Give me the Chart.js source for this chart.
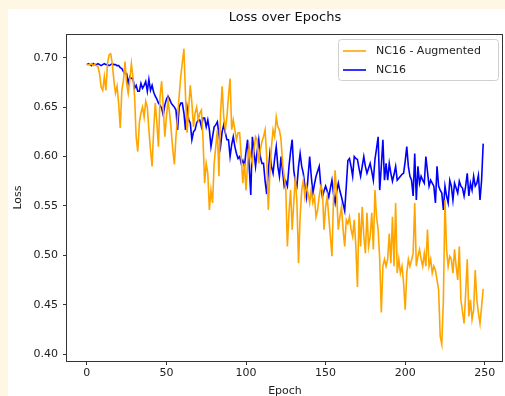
<!DOCTYPE html>
<html>
<head>
<meta charset="utf-8">
<script src="https://cdn.jsdelivr.net/npm/chart.js@4.4.1/dist/chart.umd.min.js"></script>
<style>
  html, body { margin: 0; padding: 0; background: #fff; }
</style>
</head>
<body>
<canvas id="grafico" width="505" height="396"></canvas>
<script>
// epochs 0..249
const epochs = Array.from({ length: 250 }, (_, i) => i)

const nc16Aug = [
  0.693, 0.693, 0.693, 0.694, 0.692, 0.693, 0.692, 0.691, 0.684, 0.670,
  0.667, 0.681, 0.667, 0.694, 0.703, 0.704, 0.694, 0.677, 0.664, 0.671,
  0.654, 0.629, 0.667, 0.677, 0.696, 0.674, 0.664, 0.677, 0.694, 0.680,
  0.661, 0.620, 0.605, 0.634, 0.644, 0.650, 0.640, 0.656, 0.650, 0.627,
  0.607, 0.590, 0.627, 0.654, 0.634, 0.610, 0.661, 0.676, 0.650, 0.620,
  0.640, 0.657, 0.644, 0.627, 0.607, 0.592, 0.620, 0.640, 0.661, 0.681,
  0.695, 0.709, 0.661, 0.624, 0.650, 0.672, 0.654, 0.630, 0.644, 0.650,
  0.637, 0.644, 0.647, 0.617, 0.573, 0.593, 0.583, 0.546, 0.566, 0.553,
  0.593, 0.610, 0.627, 0.580, 0.644, 0.671, 0.640, 0.627, 0.640, 0.661,
  0.679, 0.627, 0.637, 0.627, 0.617, 0.624, 0.624, 0.600, 0.573, 0.593,
  0.566, 0.593, 0.610, 0.600, 0.593, 0.607, 0.620, 0.617, 0.593, 0.607,
  0.615, 0.620, 0.627, 0.600, 0.546, 0.583, 0.610, 0.627, 0.620, 0.640,
  0.630, 0.627, 0.617, 0.593, 0.580, 0.566, 0.509, 0.543, 0.566, 0.526,
  0.553, 0.580, 0.553, 0.492, 0.539, 0.566, 0.576, 0.559, 0.570, 0.563,
  0.553, 0.566, 0.553, 0.559, 0.539, 0.546, 0.560, 0.570, 0.566, 0.526,
  0.549, 0.559, 0.539, 0.519, 0.499, 0.559, 0.586, 0.559, 0.526, 0.539,
  0.549, 0.526, 0.509, 0.536, 0.532, 0.539, 0.526, 0.519, 0.536, 0.509,
  0.468, 0.543, 0.509, 0.549, 0.520, 0.502, 0.543, 0.509, 0.519, 0.543,
  0.506, 0.566, 0.539, 0.526, 0.496, 0.442, 0.489, 0.496, 0.489, 0.496,
  0.522, 0.492, 0.539, 0.489, 0.553, 0.482, 0.496, 0.482, 0.489, 0.472,
  0.445, 0.482, 0.496, 0.489, 0.495, 0.502, 0.553, 0.489, 0.499, 0.506,
  0.496, 0.489, 0.502, 0.489, 0.526, 0.489, 0.496, 0.482, 0.489, 0.485,
  0.475, 0.465, 0.418, 0.410, 0.455, 0.556, 0.506, 0.489, 0.499, 0.496,
  0.482, 0.506, 0.489, 0.475, 0.509, 0.455, 0.443, 0.431, 0.462, 0.496,
  0.438, 0.455, 0.435, 0.445, 0.485, 0.455, 0.442, 0.431, 0.448, 0.466
]

const nc16 = [
  0.693, 0.694, 0.693, 0.692, 0.694, 0.693, 0.693, 0.694, 0.693, 0.692,
  0.693, 0.694, 0.693, 0.693, 0.692, 0.693, 0.694, 0.693, 0.693, 0.692,
  0.692, 0.690, 0.689, 0.686, 0.684, 0.684, 0.674, 0.681, 0.679, 0.679,
  0.669, 0.672, 0.666, 0.666, 0.674, 0.669, 0.672, 0.676, 0.666, 0.678,
  0.667, 0.672, 0.665, 0.661, 0.658, 0.654, 0.652, 0.649, 0.642, 0.652,
  0.658, 0.661, 0.658, 0.654, 0.652, 0.650, 0.647, 0.627, 0.650, 0.654,
  0.654, 0.644, 0.627, 0.649, 0.637, 0.634, 0.617, 0.625, 0.627, 0.634,
  0.637, 0.637, 0.630, 0.639, 0.639, 0.630, 0.637, 0.627, 0.610, 0.620,
  0.630, 0.632, 0.635, 0.622, 0.610, 0.625, 0.632, 0.624, 0.617, 0.617,
  0.600, 0.612, 0.620, 0.610, 0.603, 0.598, 0.600, 0.593, 0.596, 0.590,
  0.605, 0.617, 0.590, 0.561, 0.620, 0.605, 0.590, 0.605, 0.617, 0.600,
  0.593, 0.593, 0.575, 0.562, 0.585, 0.603, 0.590, 0.583, 0.598, 0.610,
  0.590, 0.580, 0.600, 0.585, 0.570, 0.575, 0.570, 0.590, 0.605, 0.617,
  0.586, 0.575, 0.570, 0.590, 0.603, 0.590, 0.583, 0.570, 0.559, 0.580,
  0.600, 0.580, 0.563, 0.572, 0.580, 0.585, 0.590, 0.570, 0.559, 0.565,
  0.570, 0.565, 0.559, 0.568, 0.576, 0.562, 0.553, 0.565, 0.573, 0.565,
  0.559, 0.552, 0.545, 0.570, 0.596, 0.598, 0.590, 0.580, 0.600, 0.598,
  0.597, 0.588, 0.580, 0.590, 0.600, 0.590, 0.583, 0.588, 0.593, 0.585,
  0.576, 0.597, 0.608, 0.620, 0.566, 0.590, 0.617, 0.576, 0.593, 0.576,
  0.593, 0.583, 0.575, 0.582, 0.590, 0.576, 0.578, 0.580, 0.582, 0.583,
  0.595, 0.610, 0.590, 0.580, 0.576, 0.560, 0.603, 0.556, 0.590, 0.573,
  0.580, 0.576, 0.573, 0.600, 0.585, 0.570, 0.576, 0.573, 0.570, 0.553,
  0.590, 0.570, 0.566, 0.563, 0.546, 0.570, 0.560, 0.553, 0.576, 0.570,
  0.556, 0.573, 0.568, 0.563, 0.575, 0.570, 0.568, 0.560, 0.570, 0.583,
  0.560, 0.573, 0.566, 0.580, 0.570, 0.573, 0.581, 0.556, 0.576, 0.613
]

const xTicks = [0, 50, 100, 150, 200, 250]
const yTicks = [0.40, 0.45, 0.50, 0.55, 0.60, 0.65, 0.70]

Chart.defaults.font.family = '"DejaVu Sans", sans-serif'
Chart.defaults.color = '#222'

// fundo branco com a faixa creme da captura
const fundo = {
  id: 'fundo',
  beforeDraw(chart) {
    const ctx = chart.ctx
    ctx.save()
    ctx.fillStyle = '#ffffff'
    ctx.fillRect(0, 0, chart.width, chart.height)
    ctx.fillStyle = '#fdf7e4'
    ctx.fillRect(0, 0, chart.width, 9)
    ctx.fillRect(0, 0, 8, chart.height)
    ctx.restore()
  }
}

// moldura dos eixos + legenda no canto
const moldura = {
  id: 'moldura',
  afterDraw(chart) {
    const a = chart.chartArea
    const ctx = chart.ctx
    ctx.save()
    ctx.strokeStyle = '#333'
    ctx.lineWidth = 1
    ctx.strokeRect(a.left - 0.5, a.top + 0.5, a.right - a.left, a.bottom - a.top)

    const bx = 338, by = 39, bw = 160, bh = 41
    ctx.beginPath()
    ctx.roundRect(bx + 0.5, by + 0.5, bw, bh, 3)
    ctx.fillStyle = 'rgba(255,255,255,0.85)'
    ctx.fill()
    ctx.strokeStyle = '#d0d0d0'
    ctx.stroke()

    ctx.font = '11px "DejaVu Sans"'
    ctx.textBaseline = 'middle'
    chart.data.datasets.forEach((ds, i) => {
      const y = 51 + i * 19
      ctx.beginPath()
      ctx.moveTo(343, y)
      ctx.lineTo(366, y)
      ctx.strokeStyle = ds.borderColor
      ctx.lineWidth = 1.6
      ctx.stroke()
      ctx.fillStyle = '#222'
      ctx.fillText(ds.label, 376, y)
    })
    ctx.restore()
  }
}

const config = {
  type: 'line',
  data: {
    labels: epochs,
    datasets: [{
      label: 'NC16 - Augmented',
      data: nc16Aug,
      borderColor: '#ffa500',
      borderWidth: 1.6,
      pointRadius: 0,
      tension: 0
    }, {
      label: 'NC16',
      data: nc16,
      borderColor: '#0000ff',
      borderWidth: 1.6,
      pointRadius: 0,
      tension: 0
    }]
  },
  options: {
    responsive: false,
    animation: false,
    layout: { padding: { left: 0, right: 2, top: 0, bottom: 0 } },
    plugins: {
      legend: { display: false },
      tooltip: { enabled: false },
      title: {
        display: true,
        text: 'Loss over Epochs',
        fullSize: false,
        color: '#111',
        font: { size: 13, weight: 'normal' },
        padding: { top: 10.2, bottom: 8.2 }
      }
    },
    scales: {
      x: {
        type: 'linear',
        min: -12.45,
        max: 261.45,
        afterBuildTicks: (scale) => { scale.ticks = xTicks.map(v => ({ value: v })) },
        afterFit: (scale) => { scale.height = 35 },
        grid: { drawOnChartArea: false, drawTicks: true, tickLength: 4, tickColor: '#333' },
        border: { display: false },
        ticks: { font: { size: 11 }, padding: 2, maxRotation: 0 },
        title: { display: true, text: 'Epoch', font: { size: 11, lineHeight: 0.8 }, padding: 0 }
      },
      y: {
        min: 0.393,
        max: 0.724,
        afterBuildTicks: (scale) => { scale.ticks = yTicks.map(v => ({ value: v })) },
        afterFit: (scale) => { scale.width = 67 },
        grid: { drawOnChartArea: false, drawTicks: true, tickLength: 4, tickColor: '#333' },
        border: { display: false },
        ticks: { font: { size: 11 }, padding: 5, callback: (v) => v.toFixed(2) },
        title: { display: true, text: 'Loss', font: { size: 11 }, padding: { top: 11.4, bottom: 0 } }
      }
    }
  },
  plugins: [fundo, moldura]
}

const grafico = new Chart(document.getElementById('grafico'), config)
</script>
</body>
</html>
